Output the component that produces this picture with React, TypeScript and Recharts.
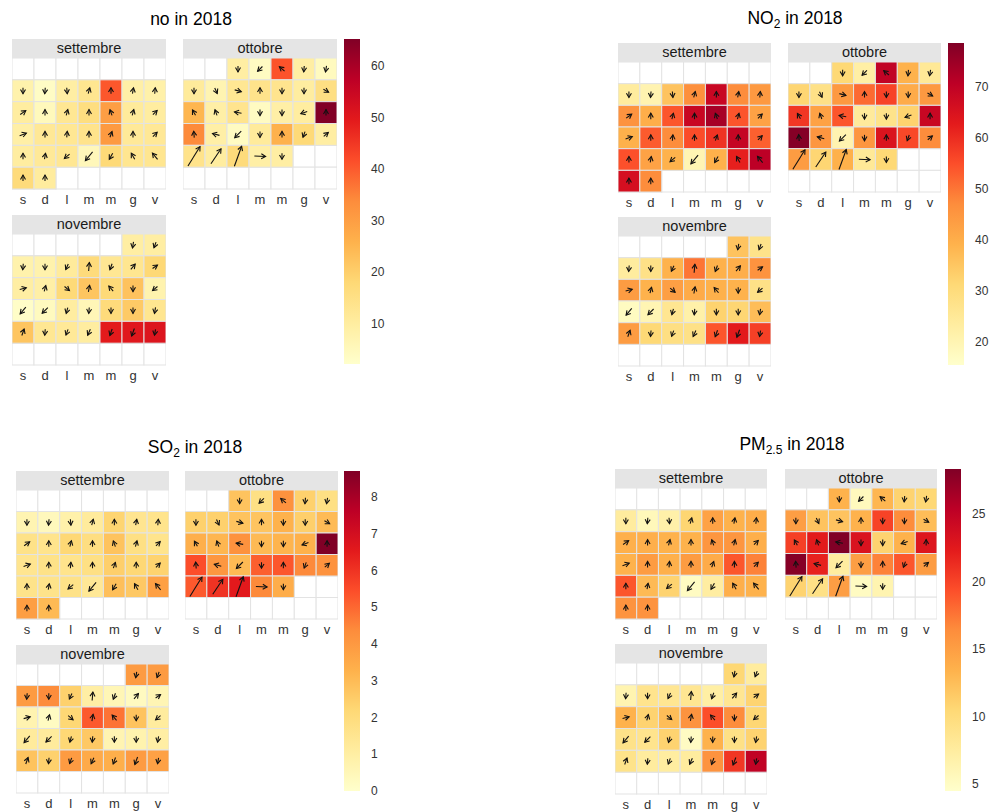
import { Bar, BarChart, Scatter, ScatterChart, XAxis, YAxis } from "recharts";

const months = ["settembre", "ottobre", "novembre"];
const dayLabels = ["s", "d", "l", "m", "m", "g", "v"];

// wind, shared by every panel: direction the arrow points (deg from north) and speed
const windDirSet = [180, 185, 175, 15, 0, 10, 5, 55, 0, 15, 0, 340, 15, 45, 70, 0, 5, 0, 20, 0, 45, 0, 10, 230, 220, 210, 330, 320, 0, 0];
const windSpdSet = [1.5, 1.5, 1.5, 1.5, 1.5, 1.5, 1.5, 1.7, 1.5, 1.5, 1.5, 1.5, 1.5, 1.5, 1.8, 1.5, 1.5, 1.5, 1.5, 1.5, 1.5, 1.5, 1.5, 1.7, 2.8, 1.7, 1.7, 2, 1.5, 1.5];
const windDirOtt = [180, 225, 310, 185, 190, 180, 155, 105, 0, 180, 180, 120, 330, 340, 280, 180, 180, 250, 0, 355, 285, 225, 180, 0, 200, 50, 32, 34, 20, 92, 180];
const windSpdOtt = [1.5, 1.7, 1.7, 1.5, 1.5, 1.5, 1.5, 1.7, 1.5, 1.5, 1.5, 1.5, 1.5, 1.5, 1.8, 1.5, 1.5, 1.7, 1.5, 1.6, 1.8, 2.3, 1.5, 1.5, 1.5, 1.5, 5.7, 4.5, 5.3, 2.8, 1.5];
const windDirNov = [190, 200, 185, 180, 205, 5, 200, 40, 55, 75, 15, 130, 10, 320, 180, 230, 220, 225, 195, 185, 180, 180, 190, 20, 185, 200, 205, 200, 200, 190];
const windSpdNov = [1.5, 1.5, 1.5, 1.5, 1.5, 2.1, 1.6, 1.7, 1.5, 1.7, 1.5, 1.6, 1.7, 1.7, 1.5, 1.6, 2.2, 2, 1.5, 1.5, 1.5, 1.5, 1.5, 1.7, 1.5, 1.5, 1.6, 1.7, 2, 1.5];

// daily means
const noSet = [8, 3.5, 9.5, 13, 40.5, 9, 8.5, 10, 5, 12.5, 16, 30, 11, 10, 9, 12, 12.5, 14, 31, 11.5, 12, 10, 11.5, 12.5, 5.5, 17.5, 13, 13, 17, 10.5];
const noOtt = [9.5, 4, 41, 9.5, 4.5, 11, 7, 12.5, 14, 13.5, 10, 15.5, 25, 9, 13.5, 4, 9, 10, 65, 34, 9, 4, 11, 26, 17.5, 9.5, 14, 10, 17, 9, 9.5];
const noNov = [9.5, 9.5, 8, 8, 11, 17, 12.5, 13, 18, 9.5, 9, 17.5, 22, 17.5, 22.5, 7.5, 3, 4.5, 10, 6, 17, 21, 13, 22, 12.5, 11.5, 10, 49.5, 50, 51];

const no2Set = [23.6, 20.5, 35.6, 46.4, 68.5, 47, 44.5, 45.7, 40, 54, 68.5, 73.5, 54, 42.6, 39.4, 53.3, 47, 55.2, 59, 69, 52.7, 54.6, 42.6, 39.1, 19.8, 39.4, 62, 70.7, 66, 47];
const no2Ott = [31.2, 22.4, 69.8, 39.1, 24.9, 31.8, 28, 44.5, 51.4, 56.5, 40.7, 44.5, 58.4, 42.6, 54, 24.3, 27.4, 32.5, 68.5, 78, 45, 20.5, 45, 64.7, 55.8, 47, 43.8, 31.8, 39.4, 24.9, 31.2];
const no2Nov = [35.6, 27.4, 23.6, 28, 39.1, 50, 39.4, 40, 45.7, 43.8, 39.1, 43.2, 40.7, 39.4, 39.1, 28, 17.3, 19.8, 26.2, 21.7, 32.5, 31.8, 36.9, 43.8, 31.2, 28.7, 28, 54, 62.8, 57.1];

const so2Set = [0.65, 0.4, 0.85, 1.2, 2.3, 1.5, 1.6, 1.7, 1.6, 2.2, 1.9, 2.8, 1.8, 1.6, 1.5, 1.7, 1.6, 1.8, 2.45, 2.2, 2.35, 1.65, 1.65, 1.7, 1.35, 2.9, 2.65, 3.8, 3.85, 3.05];
const so2Ott = [2.8, 1.8, 4.2, 2.4, 1.8, 2.4, 2.4, 2.8, 2.75, 3.25, 2.45, 3, 3.35, 3.15, 4.2, 3.05, 3.2, 3.3, 8.7, 5.45, 4.05, 3.05, 5.15, 5.3, 4.4, 4.2, 5.25, 6, 6.55, 4.4, 3.4];
const so2Nov = [3.95, 3.95, 3.95, 4.35, 2.4, 1, 0.55, 0.3, 0.6, 0.7, 0.25, 2.2, 5.25, 4.8, 2.8, 1.15, 1.2, 1.2, 2.2, 2.65, 0.65, 0.75, 1, 2.8, 2.4, 3.95, 3.5, 3.35, 3.95, 3.75];

const pmSet = [7.6, 5.7, 6.9, 10.7, 14.7, 13.4, 13.8, 13.6, 13.7, 13.4, 13.4, 15.7, 15.7, 13.7, 13.4, 15.2, 13.6, 15.2, 14, 19, 16.9, 19, 12.8, 10.9, 5.2, 7.4, 13.7, 13.4, 15.9, 15.9];
const pmOtt = [13.4, 5.5, 13.1, 10.9, 10.5, 15, 12.1, 12.1, 13.4, 20, 16.4, 12.6, 20.2, 22.4, 28.3, 23.1, 10.9, 13.4, 22.8, 28, 21.9, 7.5, 15, 16.9, 19, 15.2, 10.9, 9.3, 15, 5.2, 6.4];
const pmNov = [10.5, 7.6, 6.4, 8.8, 8.5, 8.5, 7.2, 8.5, 10.8, 13.4, 10.9, 12.6, 15.9, 19.4, 16.4, 10.6, 9.1, 8.8, 10.9, 5.1, 13.4, 9.3, 10.9, 9, 7.6, 7.5, 7.6, 15.9, 20.7, 25];

const noTicks = [10, 20, 30, 40, 50, 60];
const no2Ticks = [20, 30, 40, 50, 60, 70];
const so2Ticks = [0, 1, 2, 3, 4, 5, 6, 7, 8];
const pmTicks = [5, 10, 15, 20, 25];

const YLORRD = ["#FFFFCC", "#FFEDA0", "#FED976", "#FEB24C", "#FD8D3C", "#FC4E2A", "#E31A1C", "#BD0026", "#800026"];

function hexToRgb(h: string) {
  return [1, 3, 5].map((i) => parseInt(h.slice(i, i + 2), 16));
}

function heat(t: number) {
  const c = Math.max(0, Math.min(1, t)) * (YLORRD.length - 1);
  const i = Math.min(Math.floor(c), YLORRD.length - 2);
  const f = c - i;
  const a = hexToRgb(YLORRD[i]);
  const b = hexToRgb(YLORRD[i + 1]);
  const m = a.map((v, k) => Math.round(v + (b[k] - v) * f));
  return `rgb(${m[0]},${m[1]},${m[2]})`;
}

const windDir = [windDirSet, windDirOtt, windDirNov];
const windSpd = [windSpdSet, windSpdOtt, windSpdNov];

// calendar position: columns start on Saturday, a month starting on Saturday gets an empty first row
function buildDays(monthIdx: number, values: number[]) {
  let offset = (new Date(2018, 8 + monthIdx, 1).getDay() + 1) % 7;
  if (offset === 0) offset = 7;
  return values.map((v, i) => ({
    col: (offset + i) % 7,
    row: Math.floor((offset + i) / 7),
    value: v,
    dir: windDir[monthIdx][i],
    ws: windSpd[monthIdx][i],
  }));
}

const blankGrid = Array.from({ length: 42 }, (_, i) => ({ col: i % 7, row: Math.floor(i / 7) }));

const FONT = "'Liberation Sans', Arial, Helvetica, sans-serif";
const STRIP_H = 19;
const HEAD = 5;

function Facet({ x, y, w, gh, name, monthIdx, values, lo, hi }: any) {
  const cw = w / 7;
  const ch = gh / 6;
  const data = buildDays(monthIdx, values);

  const blank = (p: any) => (
    <rect x={p.cx - cw / 2} y={p.cy - ch / 2} width={cw} height={ch} fill="#FFFFFF" stroke="#E3E3E3" strokeWidth={1} />
  );

  const cell = (p: any) => {
    const { cx, cy, payload } = p;
    const len = payload.ws * 4;
    const a = (payload.dir * Math.PI) / 180;
    const ux = Math.sin(a);
    const uy = -Math.cos(a);
    const x1 = cx - (ux * len) / 2;
    const y1 = cy - (uy * len) / 2;
    const x2 = cx + (ux * len) / 2;
    const y2 = cy + (uy * len) / 2;
    const arm = (s: number) => {
      const b = a + Math.PI + (s * Math.PI) / 6;
      return `${x2 + Math.sin(b) * HEAD},${y2 - Math.cos(b) * HEAD}`;
    };
    return (
      <g>
        <rect x={cx - cw / 2} y={cy - ch / 2} width={cw} height={ch} fill={heat((payload.value - lo) / (hi - lo))} stroke="#E3E3E3" strokeWidth={1} />
        <line x1={x1} y1={y1} x2={x2} y2={y2} stroke="#111" strokeWidth={1.1} />
        <polyline points={`${arm(-1)} ${x2},${y2} ${arm(1)}`} fill="none" stroke="#111" strokeWidth={1.1} />
      </g>
    );
  };

  return (
    <>
      <div
        style={{
          position: "absolute",
          left: x,
          top: y,
          width: w,
          height: STRIP_H,
          background: "#E5E5E5",
          color: "#1A1A1A",
          fontSize: 14.5,
          lineHeight: `${STRIP_H}px`,
          textAlign: "center",
        }}
      >
        {name}
      </div>
      <div style={{ position: "absolute", left: x, top: y + STRIP_H }}>
        <ScatterChart width={w} height={gh + 24} margin={{ top: 0, right: 0, bottom: 0, left: 0 }}>
          <XAxis
            type="number"
            dataKey="col"
            domain={[-0.5, 6.5]}
            ticks={[0, 1, 2, 3, 4, 5, 6]}
            tickFormatter={(v: number) => dayLabels[v]}
            interval={0}
            axisLine={false}
            tickLine={false}
            tickMargin={0}
            height={24}
            tick={{ fontSize: 13, fill: "#333" }}
          />
          <YAxis type="number" dataKey="row" domain={[-0.5, 5.5]} reversed hide />
          <Scatter data={blankGrid} shape={blank} isAnimationActive={false} />
          <Scatter data={data} shape={cell} isAnimationActive={false} />
        </ScatterChart>
      </div>
    </>
  );
}

const BAR_PAD = 10;

function ColorBar({ x, y, h, lo, hi, ticks, id }: any) {
  return (
    <div style={{ position: "absolute", left: x, top: y - BAR_PAD }}>
      <BarChart
        width={50}
        height={h + 2 * BAR_PAD}
        data={[{ name: "scale", range: [lo, hi] }]}
        margin={{ top: BAR_PAD, right: 0, bottom: BAR_PAD, left: 0 }}
        barCategoryGap={0}
      >
        <defs>
          <linearGradient id={id} x1="0" y1="1" x2="0" y2="0">
            {YLORRD.map((c, i) => (
              <stop key={i} offset={`${(i / (YLORRD.length - 1)) * 100}%`} stopColor={c} />
            ))}
          </linearGradient>
        </defs>
        <XAxis dataKey="name" hide />
        <YAxis
          type="number"
          orientation="right"
          domain={[lo, hi]}
          allowDataOverflow
          ticks={ticks}
          interval={0}
          width={34}
          axisLine={false}
          tickLine={false}
          tickMargin={5}
          tick={{ fontSize: 12, fill: "#333" }}
        />
        <Bar dataKey="range" fill={`url(#${id})`} isAnimationActive={false} />
      </BarChart>
    </div>
  );
}

const panels = [
  { key: "no", title: <>no in 2018</>, tx: 191, ty: 20, left: 12, ottLeft: 183, w: 154, top: 39, gh: 131, novTop: 215, lx: 344, lh: 325, lo: 2.2, hi: 65.2, ticks: noTicks, values: [noSet, noOtt, noNov] },
  { key: "no2", title: <>NO<sub style={{ fontSize: 12 }}>2</sub> in 2018</>, tx: 795, ty: 20, left: 618, ottLeft: 788, w: 153, top: 43, gh: 130, novTop: 217, lx: 948, lh: 322, lo: 15.4, hi: 78.6, ticks: no2Ticks, values: [no2Set, no2Ott, no2Nov] },
  { key: "so2", title: <>SO<sub style={{ fontSize: 12 }}>2</sub> in 2018</>, tx: 195, ty: 449, left: 16, ottLeft: 185, w: 153, top: 471, gh: 129, novTop: 645, lx: 344, lh: 320, lo: 0, hi: 8.7, ticks: so2Ticks, values: [so2Set, so2Ott, so2Nov] },
  { key: "pm", title: <>PM<sub style={{ fontSize: 12 }}>2.5</sub> in 2018</>, tx: 792, ty: 446, left: 615, ottLeft: 785, w: 152, top: 469, gh: 131, novTop: 644, lx: 945, lh: 322, lo: 4.5, hi: 28.3, ticks: pmTicks, values: [pmSet, pmOtt, pmNov] },
];

export default function App() {
  return (
    <div style={{ position: "absolute", left: 0, top: 0, width: 989, height: 812, background: "#fff", fontFamily: FONT, overflow: "hidden" }}>
      {panels.map((p) => {
        const spots = [
          [p.left, p.top],
          [p.ottLeft, p.top],
          [p.left, p.novTop],
        ];
        return (
          <div key={p.key}>
            <div
              style={{
                position: "absolute",
                left: p.tx,
                top: p.ty,
                transform: "translate(-50%, -50%)",
                fontSize: 17.5,
                color: "#000",
                whiteSpace: "nowrap",
                lineHeight: 1,
              }}
            >
              {p.title}
            </div>
            {months.map((m, i) => (
              <Facet key={m} x={spots[i][0]} y={spots[i][1]} w={p.w} gh={p.gh} name={m} monthIdx={i} values={p.values[i]} lo={p.lo} hi={p.hi} />
            ))}
            <ColorBar x={p.lx} y={p.top} h={p.lh} lo={p.lo} hi={p.hi} ticks={p.ticks} id={`grad-${p.key}`} />
          </div>
        );
      })}
    </div>
  );
}
